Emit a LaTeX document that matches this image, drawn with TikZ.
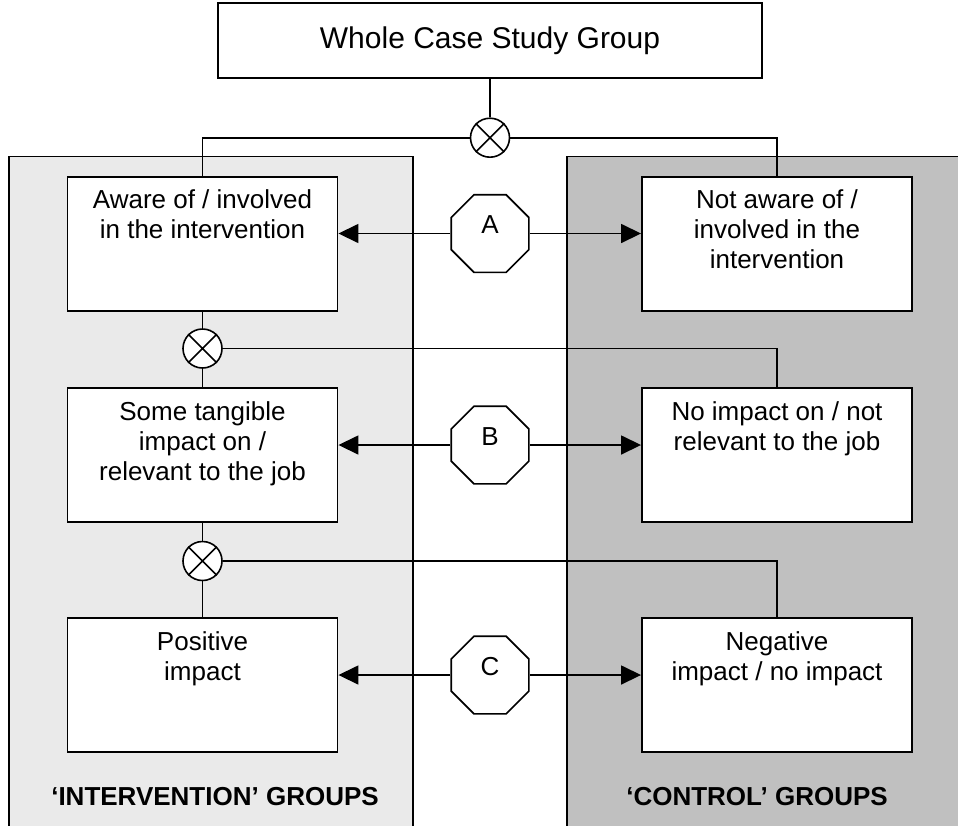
\documentclass[tikz,border=0pt]{standalone}
\usepackage{fontspec}
\setmainfont{Liberation Sans}
\usetikzlibrary{arrows.meta,shapes.geometric}
\definecolor{intervfill}{HTML}{EAEAEA}
\definecolor{controlfill}{HTML}{C0C0C0}
\begin{document}
\begin{tikzpicture}[x=1pt,y=-1pt,
  every node/.style={font=\fontsize{26}{30}\selectfont},
  panel/.style={line width=1.8pt},
  stage/.style={draw, line width=1.9pt, fill=white, minimum width=270pt,
    minimum height=134pt, inner sep=0pt, anchor=north},
  stagetext/.style={anchor=north, inner sep=0pt, align=center, yshift=-14pt,
    execute at begin node=\strut},
  merge/.style={circle, draw, line width=1.6pt, fill=white, minimum size=39pt, inner sep=0pt},
  test/.style={regular polygon, regular polygon sides=8, draw, line width=1.6pt,
    fill=white, minimum size=84pt, inner sep=0pt, text height=18pt, text depth=18pt},
  link/.style={line width=1.6pt},
  pointer/.style={line width=1.6pt, -{Triangle[length=20pt,width=19pt]}},
  grouplabel/.style={font=\bfseries\fontsize{26}{30}\selectfont, anchor=base, inner sep=0pt}
]
\useasboundingbox (0,0) rectangle (958,825);
\clip (0,0) rectangle (958,825);

% group panels
\fill[intervfill] (9,156.5) rectangle (413,840);
\draw[panel] (9,840) -- (9,156.5) -- (413,156.5) -- (413,840);
\fill[controlfill] (567,156.5) rectangle (975,840);
\draw[panel] (567,840) -- (567,156.5) -- (975,156.5) -- (975,840);

% top box
\node[draw, line width=1.9pt, minimum width=544pt, minimum height=75pt, inner sep=0pt,
  font=\fontsize{30}{34}\selectfont]
  (whole) at (490,40.5) {Whole Case Study Group};

% stage boxes
\node[stage] (L1) at (202.5,175.7) {};
\node[stage] (L2) at (202.5,387) {};
\node[stage] (L3) at (202.5,617) {};
\node[stage] (R1) at (777,175.7) {};
\node[stage] (R2) at (777,387) {};
\node[stage] (R3) at (777,617) {};

\node[stagetext] (L1t) at (L1.north) {Aware of / involved\\in the intervention};
\node[stagetext] (L2t) at (L2.north) {Some tangible\\impact on /\\relevant to the job};
\node[stagetext] (L3t) at (L3.north) {Positive\\impact};
\node[stagetext] (R1t) at (R1.north) {Not aware of /\\involved in the\\intervention};
\node[stagetext] (R2t) at (R2.north) {No impact on / not\\relevant to the job};
\node[stagetext] (R3t) at (R3.north) {Negative\\impact / no impact};

% split points
\node[merge] (m1) at (490,137.7) {};
\node[merge] (m2) at (202.5,348.5) {};
\node[merge] (m3) at (202.5,561) {};
\foreach \m in {m1,m2,m3}
  \draw[link] (\m.north west) -- (\m.south east) (\m.north east) -- (\m.south west);

% tests
\node[test] (A) at (490,233.5) {A};
\node[test] (B) at (490,445) {B};
\node[test] (C) at (490,675) {C};

% connectors
\draw[link] (whole.south) -- (m1.north);
\draw[link] (m1.west) -| (L1.north);
\draw[link] (m1.east) -| (R1.north);
\draw[link] (L1.south) -- (m2.north);
\draw[link] (m2.south) -- (L2.north);
\draw[link] (m2.east) -| (R2.north);
\draw[link] (L2.south) -- (m3.north);
\draw[link] (m3.south) -- (L3.north);
\draw[link] (m3.east) -| (R3.north);

\draw[pointer] (A.west) -- (L1.east |- A.center);
\draw[pointer] (A.east) -- (R1.west |- A.center);
\draw[pointer] (B.west) -- (L2.east |- B.center);
\draw[pointer] (B.east) -- (R2.west |- B.center);
\draw[pointer] (C.west) -- (L3.east |- C.center);
\draw[pointer] (C.east) -- (R3.west |- C.center);

% group labels
\node[grouplabel] (ilabel) at (215,805) {‘INTERVENTION’ GROUPS};
\node[grouplabel] (clabel) at (757,805) {‘CONTROL’ GROUPS};
\end{tikzpicture}
\end{document}
